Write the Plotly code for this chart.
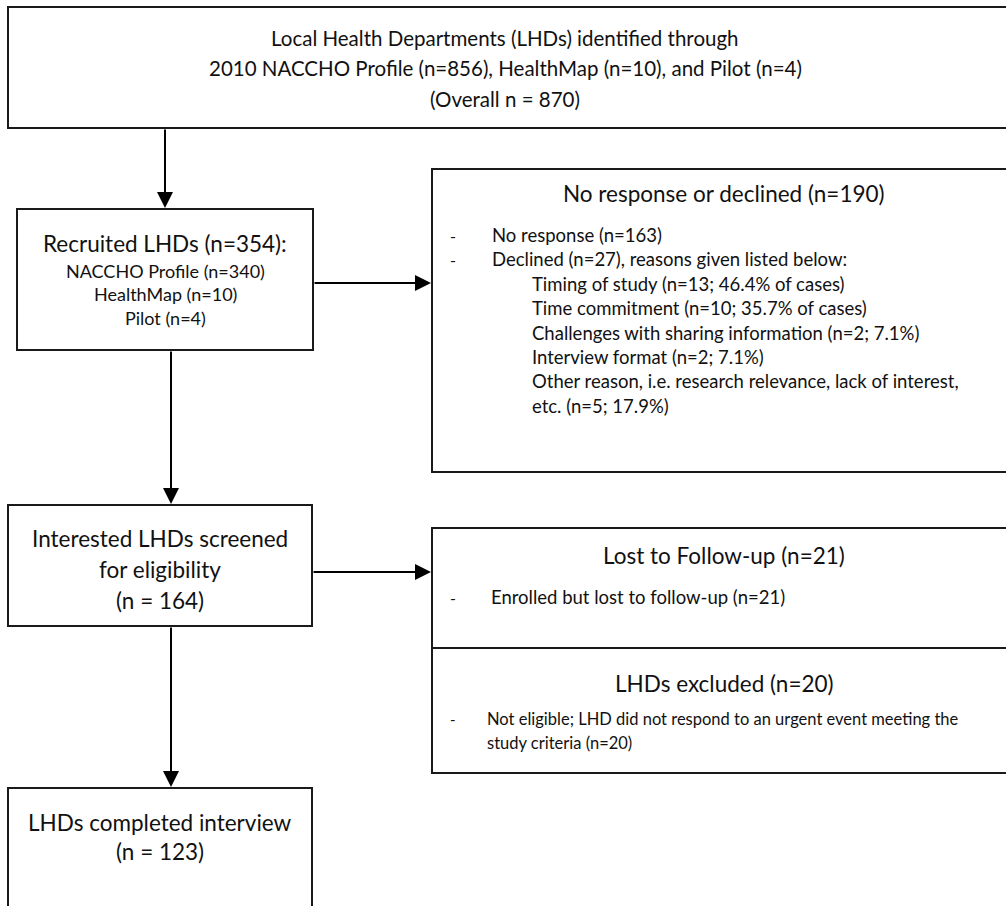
import plotly.graph_objects as go

# ---------------- content ----------------
top_lines = [
    "Local Health Departments (LHDs) identified through",
    "2010 NACCHO Profile (n=856), HealthMap (n=10), and Pilot (n=4)",
    "(Overall n = 870)",
]
recruited_title = "Recruited LHDs (n=354):"
recruited_sources = ["NACCHO Profile (n=340)", "HealthMap (n=10)", "Pilot (n=4)"]
noresp_title = "No response or declined (n=190)"
noresp_items = ["No response (n=163)", "Declined (n=27), reasons given listed below:"]
decline_reasons = [
    "Timing of study (n=13; 46.4% of cases)",
    "Time commitment (n=10; 35.7% of cases)",
    "Challenges with sharing information (n=2; 7.1%)",
    "Interview format (n=2; 7.1%)",
    "Other reason, i.e. research relevance, lack of interest,",
    "etc. (n=5; 17.9%)",
]
screened_lines = ["Interested LHDs screened", "for eligibility", "(n = 164)"]
lost_title = "Lost to Follow-up (n=21)"
lost_items = ["Enrolled but lost to follow-up (n=21)"]
excluded_title = "LHDs excluded (n=20)"
excluded_lines = [
    "Not eligible; LHD did not respond to an urgent event meeting the",
    "study criteria (n=20)",
]
completed_lines = ["LHDs completed interview", "(n = 123)"]

# ---------------- layout geometry (pixels) ----------------
W, H = 1006, 906
FONT = "Lato, 'Open Sans', sans-serif"
TXT = "#111111"
BORDER = "#1a1a1a"

boxes = {
    "top": (8, 7, 1020, 128),
    "recruited": (17, 209, 313, 350),
    "noresp": (432, 169, 1020, 472),
    "screened": (8, 505, 312, 626),
    "lost": (432, 528, 1020, 648),
    "excluded": (432, 648, 1020, 773),
    "completed": (8, 788, 312, 960),
}

arrows = [  # (x_tail, y_tail, x_head, y_head)
    (165, 128, 165, 208),
    (313, 283, 431, 283),
    (171, 350, 171, 504),
    (312, 572, 431, 572),
    (171, 626, 171, 787),
]

fig = go.Figure()
fig.add_trace(go.Scatter(x=[0, W], y=[0, H], mode="markers",
                         marker=dict(opacity=0), hoverinfo="skip", showlegend=False))

for name, (x0, y0, x1, y1) in boxes.items():
    fig.add_shape(type="rect", x0=x0, y0=y0, x1=x1, y1=y1, xref="x", yref="y",
                  line=dict(color=BORDER, width=2), fillcolor="white", layer="below")

for (xt, yt, xh, yh) in arrows:
    fig.add_annotation(x=xh, y=yh, ax=xt, ay=yt, xref="x", yref="y", axref="x", ayref="y",
                       text="", showarrow=True, arrowhead=2, arrowsize=1.6, arrowwidth=2,
                       arrowcolor="black", standoff=0, startstandoff=0)


def txt(x, y, s, size, anchor="center"):
    fig.add_annotation(x=x, y=y, xref="x", yref="y", text=s, showarrow=False,
                       xanchor=anchor, yanchor="middle",
                       font=dict(family=FONT, size=size, color=TXT))


# top box
for s, y in zip(top_lines, [38, 68, 99]):
    txt(505, y, s, 20.5)

# recruited
txt(165, 243, recruited_title, 22.5)
for s, y in zip(recruited_sources, [271, 294, 318]):
    txt(165, y, s, 18)

# no response
txt(724, 193, noresp_title, 22.5)
body_y = [235 + 24.4 * i for i in range(8)]
for i, s in enumerate(noresp_items):
    txt(453, body_y[i], "-", 16)
    txt(490, body_y[i], s, 18.5, "left")
for j, s in enumerate(decline_reasons):
    txt(530, body_y[2 + j], s, 18.5, "left")

# screened
for s, y in zip(screened_lines, [538, 569, 600]):
    txt(160, y, s, 22.5)

# lost
txt(724, 555, lost_title, 22.5)
for s in lost_items:
    txt(453, 597, "-", 16)
    txt(489, 597, s, 18.5, "left")

# excluded
txt(724, 683, excluded_title, 22.5)
txt(453, 719, "-", 15)
for s, y in zip(excluded_lines, [719, 743]):
    txt(485, y, s, 16.5, "left")

# completed
for s, y in zip(completed_lines, [822, 851]):
    txt(160, y, s, 22.5)

fig.update_layout(
    width=W, height=H, margin=dict(l=0, r=0, t=0, b=0),
    paper_bgcolor="white", plot_bgcolor="white", showlegend=False,
    xaxis=dict(range=[0, W], visible=False, fixedrange=True),
    yaxis=dict(range=[H, 0], visible=False, fixedrange=True),
)

fig.write_html("out.html", config={"displayModeBar": False},
               post_script="document.body.style.margin='0';document.body.style.overflow='hidden';")
